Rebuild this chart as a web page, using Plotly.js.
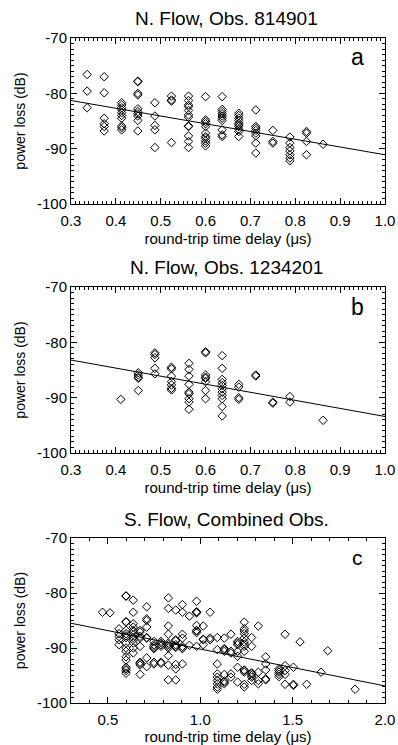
<!DOCTYPE html>
<html>
<head>
<meta charset="utf-8">
<script src="https://cdn.plot.ly/plotly-3.0.1.min.js"></script>
<style>html,body{margin:0;padding:0;background:#fff;}#chart{width:398px;height:745px;}</style>
</head>
<body>
<div id="chart"></div>
<script>
// ---------- Panel a: N. Flow, Obs. 814901 ----------
const aDelay = [0.336, 0.374, 0.413, 0.449, 0.487, 0.524, 0.562, 0.600, 0.637, 0.674, 0.712, 0.750, 0.788, 0.825, 0.862];
const aLoss = [
  [-76.6, -79.6, -82.6],
  [-77.0, -79.9, -84.5, -85.5, -86.0, -86.8],
  [-81.7, -82.1, -82.6, -83.0, -83.5, -84.0, -84.5, -85.9, -86.2, -86.6],
  [-77.8, -77.9, -80.0, -80.3, -82.8, -83.3, -83.7, -84.1, -84.9, -86.8],
  [-81.7, -84.1, -85.8, -86.6, -89.8],
  [-80.5, -81.2, -81.4, -88.9],
  [-80.5, -81.3, -82.1, -82.4, -83.1, -83.9, -84.3, -85.9, -86.0, -87.7, -88.7, -89.8],
  [-80.6, -84.8, -85.1, -85.5, -86.0, -87.2, -87.8, -88.1, -88.6, -89.0, -89.5],
  [-80.6, -82.9, -83.3, -83.7, -84.1, -84.5, -84.9, -86.6, -87.5, -87.8],
  [-83.6, -84.0, -84.5, -84.9, -85.4, -85.7, -86.0, -86.5, -86.9, -87.8],
  [-83.0, -86.0, -86.3, -86.7, -87.2, -87.7, -89.0, -90.8],
  [-86.7, -88.7, -89.0],
  [-87.9, -89.0, -89.8, -90.4, -91.1, -91.7, -92.2],
  [-86.9, -87.2, -88.7, -91.1],
  [-89.2]
];
const aFitX = [0.3, 1.0];
const aFitY = [-81.3, -91.1];

// ---------- Panel b: N. Flow, Obs. 1234201 ----------
const bDelay = [0.411, 0.450, 0.487, 0.524, 0.563, 0.600, 0.637, 0.674, 0.712, 0.750, 0.788, 0.862];
const bLoss = [
  [-90.3],
  [-85.5, -85.9, -86.3, -86.5, -88.7],
  [-81.9, -82.2, -82.8, -84.7, -85.7],
  [-84.5, -84.8, -86.1, -87.1, -87.7, -88.3, -88.6],
  [-83.8, -84.9, -86.1, -87.6, -89.0, -89.3, -90.2, -90.8, -92.1],
  [-81.7, -81.9, -85.9, -86.3, -86.5, -87.1, -88.7, -90.2],
  [-82.4, -84.7, -86.7, -87.3, -87.8, -88.4, -89.0, -89.6, -90.2, -91.6, -93.3],
  [-87.6, -88.1, -90.0, -90.3],
  [-85.9, -86.1],
  [-90.8, -91.0],
  [-89.8, -90.8],
  [-94.1]
];
const bFitX = [0.3, 1.0];
const bFitY = [-83.2, -93.4];

// ---------- Panel c: S. Flow, Combined Obs. ----------
const cDelay = [0.471, 0.511, 0.560, 0.598, 0.637, 0.674, 0.710, 0.749, 0.787, 0.827, 0.867, 0.903, 0.941, 0.980,
  1.016, 1.053, 1.092, 1.130, 1.166, 1.202, 1.238, 1.278, 1.314, 1.354, 1.426, 1.459, 1.504, 1.540, 1.576, 1.654, 1.690, 1.838];
const cLoss = [
  [-83.5],
  [-83.6],
  [-86.5, -87.4, -87.9, -88.5, -89.4],
  [-80.5, -80.6, -85.2, -85.3, -86.8, -87.4, -87.8, -88.1, -89.1, -90.0, -90.6, -91.6, -92.2, -93.5, -93.8, -94.1, -94.6],
  [-81.3, -83.5, -85.6, -86.2, -86.8, -87.1, -87.6, -88.1, -88.5, -89.1, -90.0, -90.9],
  [-86.8, -87.1, -87.9, -88.2, -89.7, -92.6, -92.8, -93.1, -94.8],
  [-82.5, -84.7, -85.0, -86.2, -88.1, -88.2, -91.8, -93.4],
  [-88.8, -89.4, -89.7, -90.0, -90.1, -92.6, -92.9],
  [-88.8, -89.1, -89.4, -89.7, -92.6, -92.8],
  [-80.9, -82.8, -86.0, -87.5, -89.1, -89.4, -89.7, -90.0, -91.4, -93.1, -95.8],
  [-83.1, -88.5, -88.7, -89.4, -89.7, -89.9, -93.0, -93.8, -95.8],
  [-82.1, -83.5, -87.5, -88.2, -89.7, -90.0, -90.1, -92.9],
  [-84.2, -89.5],
  [-81.5, -83.4, -83.5, -83.6, -85.9, -86.8, -86.9, -87.2, -89.7],
  [-86.0, -88.4, -88.5, -89.4],
  [-83.5, -88.2, -88.5],
  [-88.1, -90.3, -92.9, -94.7, -95.3, -95.9, -96.5, -97.1, -97.5],
  [-88.2, -90.1, -90.3, -90.6, -94.8, -96.0, -96.2, -96.5],
  [-87.5, -90.6, -90.9, -94.7, -95.3],
  [-88.8, -89.1, -89.4, -90.6, -91.5, -93.5, -96.2],
  [-85.3, -86.5, -86.9, -87.4, -88.2, -88.9, -89.3, -89.7, -90.6, -94.0, -94.1, -94.4, -96.6, -97.1],
  [-88.1, -89.7, -94.5, -94.7, -95.0, -95.3, -95.9],
  [-86.0, -94.4, -95.9, -96.5],
  [-91.6, -92.9, -94.0, -95.6, -95.8],
  [-93.8, -94.1, -94.4, -94.8, -95.2],
  [-87.5, -93.2, -94.1, -94.8, -96.6],
  [-93.5, -96.6, -96.8],
  [-88.9],
  [-96.6],
  [-94.4],
  [-90.5],
  [-97.5]
];
const cFitX = [0.3, 2.0];
const cFitY = [-85.5, -96.9];

// ---------- Text ----------
const panelTitles = ['N. Flow, Obs. 814901', 'N. Flow, Obs. 1234201', 'S. Flow, Combined Obs.'];
const panelLetters = ['a', 'b', 'c'];
const xTitle = 'round-trip time delay (\u03bcs)';
const yTitle = 'power loss (dB)';
const yTickVals = [-100, -90, -80, -70];
const yTickText = ['-100', '-90', '-80', '-70'];
const xTickValsAB = [0.3, 0.4, 0.5, 0.6, 0.7, 0.8, 0.9, 1.0];
const xTickValsC = [0.5, 1.0, 1.5, 2.0];

function flatten(delays, losses) {
  const xs = [], ys = [];
  delays.forEach((d, i) => losses[i].forEach(v => { xs.push(d); ys.push(v); }));
  return {xs, ys};
}

const FONT = 'Liberation Sans, Arial, Helvetica, sans-serif';
const panels = [
  {d: aDelay, l: aLoss, fx: aFitX, fy: aFitY, xa: 'x', ya: 'y'},
  {d: bDelay, l: bLoss, fx: bFitX, fy: bFitY, xa: 'x2', ya: 'y2'},
  {d: cDelay, l: cLoss, fx: cFitX, fy: cFitY, xa: 'x3', ya: 'y3'}
];
const traces = [];
panels.forEach(p => {
  const f = flatten(p.d, p.l);
  traces.push({x: f.xs, y: f.ys, xaxis: p.xa, yaxis: p.ya, type: 'scatter', mode: 'markers',
    marker: {symbol: 'diamond-open', size: 6.5, color: 'black', line: {width: 1, color: 'black'}},
    hoverinfo: 'x+y', cliponaxis: true});
  traces.push({x: p.fx, y: p.fy, xaxis: p.xa, yaxis: p.ya, type: 'scatter', mode: 'lines',
    line: {color: 'black', width: 1}, hoverinfo: 'skip'});
});

const H = 745;
const boxes = [[38, 204], [287, 453], [538, 703]];
function dom(b) { return [1 - b[1] / H, 1 - b[0] / H]; }

function xAxis(i, anchor) {
  const isC = i === 2;
  return {
    domain: [0, 1], anchor: anchor,
    range: isC ? [0.3, 2.0] : [0.3, 1.0],
    tickvals: isC ? xTickValsC : xTickValsAB,
    tickformat: '.1f',
    showline: true, mirror: 'allticks', linecolor: 'black', linewidth: 1,
    ticks: 'inside', ticklen: 6, tickcolor: 'black', tickwidth: 1,
    ticklabelstandoff: 3,
    minor: {dtick: isC ? 0.1 : 0.01, tick0: 0, ticks: 'inside', ticklen: 3, tickcolor: 'black', tickwidth: 1},
    showgrid: false, zeroline: false,
    tickfont: {family: FONT, size: 15, color: 'black'},
    title: {text: xTitle, font: {family: FONT, size: 15, color: 'black'}, standoff: 5},
    automargin: false
  };
}
function yAxis(i, anchor) {
  return {
    domain: dom(boxes[i]), anchor: anchor,
    range: [-100, -70],
    tickvals: yTickVals, ticktext: yTickText,
    showline: true, mirror: 'allticks', linecolor: 'black', linewidth: 1,
    ticks: 'inside', ticklen: 6, tickcolor: 'black', tickwidth: 1,
    minor: {dtick: 1, tick0: 0, ticks: 'inside', ticklen: 3, tickcolor: 'black', tickwidth: 1},
    showgrid: false, zeroline: false,
    tickfont: {family: FONT, size: 15, color: 'black'},
    title: {text: yTitle, font: {family: FONT, size: 14, color: 'black'}, standoff: 8},
    automargin: false
  };
}

const annotations = [];
const titleY = [19, 267, 519];
const letterY = [57, 307, 557];
for (let i = 0; i < 3; i++) {
  annotations.push({text: panelTitles[i], xref: 'paper', yref: 'paper', x: 0.494, y: 1 - titleY[i] / H,
    xanchor: 'center', yanchor: 'middle', showarrow: false, font: {family: FONT, size: 19, color: 'black'}});
  const xr = i === 0 ? 'x domain' : (i === 1 ? 'x2 domain' : 'x3 domain');
  annotations.push({text: panelLetters[i], xref: xr, yref: 'paper', x: 0.911, y: 1 - letterY[i] / H,
    xanchor: 'center', yanchor: 'middle', showarrow: false, font: {family: FONT, size: i === 2 ? 21 : 23, color: 'black'}});
}

const layout = {
  width: 398, height: 745,
  margin: {l: 71, r: 13, t: 0, b: 0},
  paper_bgcolor: 'white', plot_bgcolor: 'white',
  showlegend: false,
  xaxis: xAxis(0, 'y'), yaxis: yAxis(0, 'x'),
  xaxis2: xAxis(1, 'y2'), yaxis2: yAxis(1, 'x2'),
  xaxis3: xAxis(2, 'y3'), yaxis3: yAxis(2, 'x3'),
  annotations: annotations
};

Plotly.newPlot('chart', traces, layout, {displayModeBar: false, staticPlot: true});
</script>
</body>
</html>
